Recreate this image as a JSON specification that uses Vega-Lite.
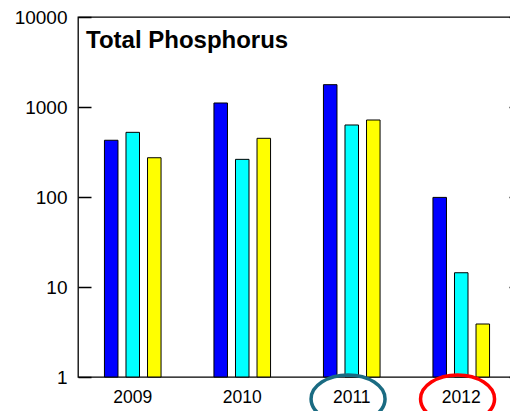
{
  "$schema": "https://vega.github.io/schema/vega-lite/v6.json",
  "autosize": "none",
  "padding": {"left": 78, "top": 17, "right": 0, "bottom": 34},
  "width": 438,
  "height": 360,
  "background": "white",
  "config": {
    "view": {"stroke": "black", "strokeWidth": 1.3},
    "font": "Liberation Sans",
    "axis": {"labelFont": "Liberation Sans", "labelColor": "black", "domain": false, "title": null}
  },
  "title": {
    "text": "Total Phosphorus",
    "anchor": "start",
    "frame": "group",
    "orient": "top",
    "font": "Liberation Sans",
    "fontSize": 24,
    "fontWeight": "bold",
    "color": "black",
    "baseline": "alphabetic",
    "offset": -63.5,
    "dx": 8
  },
  "datasets": {
    "bars": [
      {"year": "2009", "series": "A", "value": 427},
      {"year": "2009", "series": "B", "value": 523},
      {"year": "2009", "series": "C", "value": 273},
      {"year": "2010", "series": "A", "value": 1108},
      {"year": "2010", "series": "B", "value": 262},
      {"year": "2010", "series": "C", "value": 449},
      {"year": "2011", "series": "A", "value": 1770},
      {"year": "2011", "series": "B", "value": 631},
      {"year": "2011", "series": "C", "value": 717},
      {"year": "2012", "series": "A", "value": 99},
      {"year": "2012", "series": "B", "value": 14.4},
      {"year": "2012", "series": "C", "value": 3.88}
    ],
    "rings": [
      {"year": "2011", "ring": "#1a6b82"},
      {"year": "2012", "ring": "#ff0000"}
    ]
  },
  "layer": [
    {
      "data": {"name": "bars"},
      "mark": {"type": "bar", "stroke": "black", "strokeWidth": 1},
      "encoding": {
        "x": {
          "field": "year", "type": "nominal",
          "scale": {"paddingInner": 0.41, "paddingOuter": 0.205},
          "axis": {"orient": "bottom", "grid": false, "ticks": false, "tickSize": 0, "labelFontSize": 17.5, "labelAngle": 0, "labelBaseline": "middle", "labelPadding": 20}
        },
        "xOffset": {
          "field": "series", "type": "nominal",
          "scale": {"paddingInner": 0.372, "paddingOuter": 0.186}
        },
        "y": {
          "field": "value", "type": "quantitative",
          "stack": null,
          "scale": {"type": "log", "domain": [1, 10000], "nice": false},
          "axis": {
            "orient": "left",
            "values": [1, 10, 100, 1000, 10000],
            "format": "d",
            "labelFontSize": 19,
            "ticks": false,
            "labelPadding": 11,
            "grid": true,
            "gridColor": "black",
            "gridWidth": 1.3,
            "gridOpacity": 1,
            "gridDash": [13, 418, 7, 1000]
          }
        },
        "fill": {
          "field": "series", "type": "nominal",
          "scale": {"domain": ["A", "B", "C"], "range": ["#0000ff", "#00ffff", "#ffff00"]},
          "legend": null
        }
      }
    },
    {
      "data": {"name": "rings"},
      "mark": {
        "type": "point",
        "filled": false,
        "opacity": 1,
        "strokeWidth": 3.5,
        "size": 5476,
        "shape": "M 0.9 0.595 C 0.9 0.953 0.452 1.244 -0.1 1.244 C -0.652 1.244 -1.1 0.953 -1.1 0.595 C -1.1 0.237 -0.652 -0.054 -0.1 -0.054 C 0.452 -0.054 0.9 0.237 0.9 0.595 Z"
      },
      "encoding": {
        "x": {"field": "year", "type": "nominal"},
        "y": {"datum": 1, "type": "quantitative", "axis": null},
        "stroke": {"field": "ring", "type": "nominal", "scale": null}
      }
    }
  ],
  "resolve": {"axis": {"y": "independent"}}
}
